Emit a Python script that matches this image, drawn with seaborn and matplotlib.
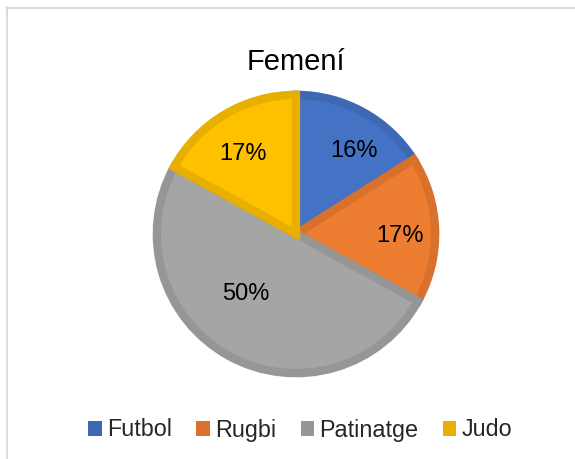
import matplotlib
matplotlib.use("Agg")
import matplotlib.pyplot as plt
import seaborn as sns
import numpy as np
from matplotlib.patches import Patch
from matplotlib.lines import Line2D

categories = ["Futbol", "Rugbi", "Patinatge", "Judo"]
values = [16, 17, 50, 17]
labels_pct = ["16%", "17%", "50%", "17%"]
title = "Femení"

fills = ["#4472C4", "#ED7D31", "#A5A5A5", "#FFC000"]
edges = ["#3E68B3", "#D7712C", "#969696", "#E8AE00"]

sns.set_theme(style="white")
plt.rcParams['font.family'] = ['Liberation Sans', 'DejaVu Sans']

fig = plt.figure(figsize=(5.75, 4.59), dpi=100)
ax = fig.add_axes([154/575, (459-376)/459, 284/575, 284/459])

wedges, _ = ax.pie(values, colors=fills, startangle=90, counterclock=False,
                   radius=0.98,
                   wedgeprops=dict(linewidth=6, edgecolor="none"))
for w, ec in zip(wedges, edges):
    w.set_edgecolor(ec)
    w.set_joinstyle("miter")

dists = [0.71, 0.73, 0.55, 0.68]
angle_adj = [6, 3, 11, -3]
for w, lab, d, adj in zip(wedges, labels_pct, dists, angle_adj):
    mid = np.deg2rad((w.theta1 + w.theta2) / 2 - adj)
    ax.text(d * np.cos(mid), d * np.sin(mid), lab, ha="center", va="center",
            fontsize=17, color="#000000")

ax.set_xlim(-1, 1)
ax.set_ylim(-1, 1)
ax.set_aspect("equal")
ax.axis("off")

fig.text(296/575, 1 - 62/459, title, ha="center", va="center", fontsize=21, color="#000000")

handles = [Patch(facecolor=ec, edgecolor="none") for ec in edges]
fig.legend(handles, categories, loc="center", bbox_to_anchor=(300/575, 1 - 430/459),
           ncol=4, frameon=False, fontsize=16.8, handlelength=0.58, handleheight=0.58,
           handletextpad=0.22, columnspacing=1.05, borderpad=0)

fig.add_artist(Line2D([6/575, 1], [1 - 7.5/459, 1 - 7.5/459], color="#d9d9d9", lw=1.3))
fig.add_artist(Line2D([6.5/575, 6.5/575], [0, 1 - 7/459], color="#d9d9d9", lw=1.3))

fig.savefig("out.png", dpi=100, facecolor="white")
